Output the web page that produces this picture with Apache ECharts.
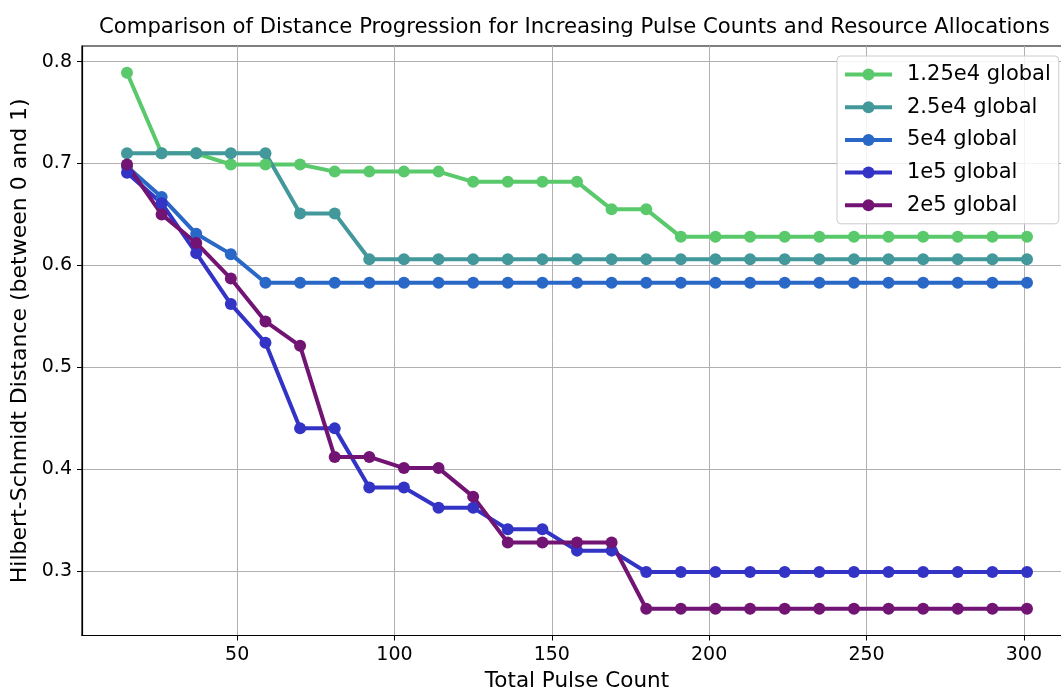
<!DOCTYPE html>
<html>
<head>
<meta charset="utf-8">
<script src="https://cdn.jsdelivr.net/npm/echarts@6/dist/echarts.min.js"></script>
<style>
html,body{margin:0;padding:0;background:#fff;}
#chart{width:1061px;height:691px;}
</style>
</head>
<body>
<div id="chart"></div>
<script>
const pulseCounts = [15,26,37,48,59,70,81,92,103,114,125,136,147,158,169,180,191,202,213,224,235,246,257,268,279,290,301];
const seriesNames = ['1.25e4 global','2.5e4 global','5e4 global','1e5 global','2e5 global'];
const s125e4 = [0.789,0.710,0.710,0.699,0.699,0.699,0.692,0.692,0.692,0.692,0.682,0.682,0.682,0.682,0.655,0.655,0.628,0.628,0.628,0.628,0.628,0.628,0.628,0.628,0.628,0.628,0.628];
const s25e4 = [0.710,0.710,0.710,0.710,0.710,0.651,0.651,0.606,0.606,0.606,0.606,0.606,0.606,0.606,0.606,0.606,0.606,0.606,0.606,0.606,0.606,0.606,0.606,0.606,0.606,0.606,0.606];
const s5e4 = [0.697,0.667,0.631,0.611,0.583,0.583,0.583,0.583,0.583,0.583,0.583,0.583,0.583,0.583,0.583,0.583,0.583,0.583,0.583,0.583,0.583,0.583,0.583,0.583,0.583,0.583,0.583];
const s1e5 = [0.691,0.661,0.612,0.562,0.524,0.440,0.440,0.382,0.382,0.362,0.362,0.341,0.341,0.320,0.320,0.299,0.299,0.299,0.299,0.299,0.299,0.299,0.299,0.299,0.299,0.299,0.299];
const s2e5 = [0.699,0.650,0.622,0.587,0.545,0.521,0.412,0.412,0.401,0.401,0.373,0.328,0.328,0.328,0.328,0.263,0.263,0.263,0.263,0.263,0.263,0.263,0.263,0.263,0.263,0.263,0.263];
const xTicks = [50,100,150,200,250,300];
const yTicks = [0.3,0.4,0.5,0.6,0.7,0.8];

const allValues = [s125e4,s25e4,s5e4,s1e5,s2e5];
const colors = ['#5ac96b','#42989a','#2a68c8','#3333c6','#721473'];
const FONT = 'DejaVu Sans';

const chart = echarts.init(document.getElementById('chart'), null, {renderer:'canvas'});
const series = seriesNames.map((name, i) => ({
  name: name,
  type: 'line',
  data: pulseCounts.map((x, j) => [x, allValues[i][j]]),
  symbol: 'circle',
  symbolSize: 12,
  showSymbol: true,
  lineStyle: {width: 4, color: colors[i]},
  itemStyle: {color: colors[i]},
  color: colors[i],
  animation: false
}));

chart.setOption({
  backgroundColor: '#ffffff',
  animation: false,
  title: {
    text: 'Comparison of Distance Progression for Increasing Pulse Counts and Resource Allocations',
    left: 94, top: 12, padding: 5,
    textStyle: {fontFamily: FONT, fontSize: 21.2, fontWeight: 'normal', color: '#000'}
  },
  legend: {
    data: seriesNames,
    orient: 'vertical',
    left: 837, top: 56,
    padding: [8, 8, 8, 6],
    itemWidth: 47, itemHeight: 15, itemGap: 11.7,
    backgroundColor: 'rgba(255,255,255,0.85)',
    borderColor: '#cccccc', borderWidth: 1, borderRadius: 4,
    selectedMode: false,
    lineStyle: {width: 4},
    textStyle: {fontFamily: FONT, fontSize: 21, color: '#000', lineHeight: 20, padding: [0,0,0,10]}
  },
  grid: {
    left: 82, width: 990, top: 46, height: 589.5,
    outerBoundsMode: 'none', containLabel: false,
    show: true, borderColor: '#000', borderWidth: 1.2, backgroundColor: '#fff'
  },
  xAxis: {
    type: 'value', min: 0.7, max: 315.3,
    minInterval: 50, maxInterval: 50, splitNumber: 6,
    name: 'Total Pulse Count', nameLocation: 'middle', nameGap: 35,
    nameTextStyle: {fontFamily: FONT, fontSize: 21.5, color: '#000'},
    axisLine: {show: true, lineStyle: {color: '#000', width: 1.2}},
    axisTick: {show: true, length: 5, lineStyle: {color: '#000'}, customValues: xTicks},
    axisLabel: {fontFamily: FONT, fontSize: 19, color: '#000', margin: 10, customValues: xTicks},
    splitLine: {show: true, lineStyle: {color: '#b0b0b0', width: 1}}
  },
  yAxis: {
    type: 'value', min: 0.2367, max: 0.8153,
    minInterval: 0.1, maxInterval: 0.1, splitNumber: 6,
    name: 'Hilbert-Schmidt Distance (between 0 and 1)', nameLocation: 'middle', nameGap: 50,
    nameTextStyle: {fontFamily: FONT, fontSize: 22, color: '#000'},
    axisLine: {show: true, lineStyle: {color: '#000', width: 1.2}},
    axisTick: {show: true, length: 5, lineStyle: {color: '#000'}, customValues: yTicks},
    axisLabel: {fontFamily: FONT, fontSize: 19, color: '#000', margin: 10, customValues: yTicks,
      formatter: v => Number(v).toFixed(1)},
    splitLine: {show: true, lineStyle: {color: '#b0b0b0', width: 1}}
  },
  series: series
});
</script>
</body>
</html>
